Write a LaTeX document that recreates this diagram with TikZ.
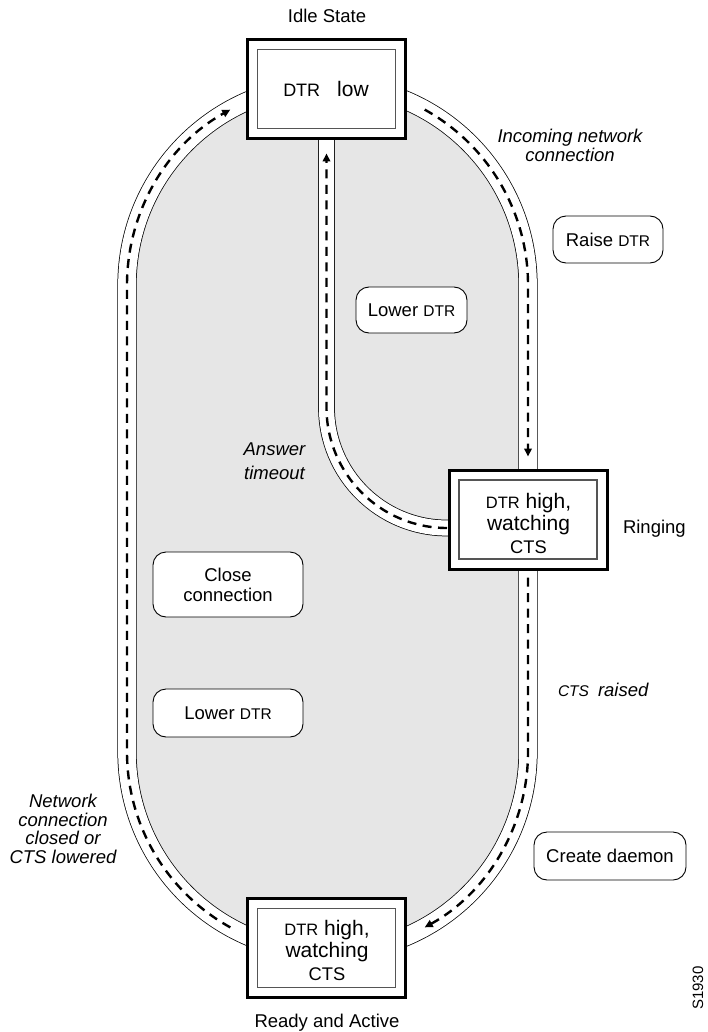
\documentclass[tikz,border=0pt]{standalone}
\usepackage{fontspec}
\setmainfont{Liberation Sans}
\usetikzlibrary{arrows.meta,backgrounds,calc}
\definecolor{insidegrey}{HTML}{E6E6E6}
\definecolor{innerline}{HTML}{555555}
\newcommand\sdtr{{\fontsize{15.5}{15.5}\selectfont DTR}}
\newcommand\tdtr{{\fontsize{18}{18}\selectfont DTR}}
\newcommand\bdtr{{\fontsize{16.5}{16.5}\selectfont DTR}}
\newcommand\bcts{{\fontsize{18.3}{18.3}\selectfont CTS}}
\newcommand\scts{{\fontsize{15.5}{15.5}\selectfont CTS}}
\begin{document}
\begin{tikzpicture}[x=1pt,y=-1pt,
  every node/.style={inner sep=0pt, outer sep=0pt},
  statebox/.style={draw=black, line width=3pt, fill=white, minimum width=158pt, minimum height=99pt},
  innerbox/.style={draw=innerline, line width=1.1pt, minimum width=138pt, minimum height=79pt},
  boxtext/.style={align=center, font=\fontsize{21}{22.5}\selectfont},
  lbl/.style={font=\fontsize{18.5}{20}\selectfont},
  ital/.style={align=center, font=\fontsize{18.5}{18.5}\selectfont\itshape},
  actionbox/.style={draw=black, line width=0.9pt, rounded corners=13pt, fill=white, align=center, font=\fontsize{18.5}{20}\selectfont},
  road/.style={draw=black, line width=0.75pt, double=white, double distance=17.7pt},
  lane/.style={draw=black, line width=0.75pt, double=white, double distance=15.2pt},
  flow/.style={draw=black, line width=2.4pt, dash pattern=on 9pt off 6.5pt, -{Triangle[length=8pt,width=7.5pt]}}
]
\useasboundingbox (0,0) rectangle (708,1032);
\coordinate (topc) at (327.5,285);
\coordinate (botc) at (327.5,752);

% state boxes
\node[statebox] (idle) at (326.5,89) {};
\node[innerbox] (idlein) at (326.5,89) {};
\node[boxtext, anchor=base] (idletxt) at (326,97) {\tdtr\hspace{17pt}low};

\node[statebox] (ring) at (528,520) {};
\node[innerbox] (ringin) at (528,519.5) {};
\node[boxtext] (ringtxt) at (528.5,523) {\bdtr{} high,\\watching\\\bcts};

\node[statebox] (ready) at (326.5,948) {};
\node[innerbox] (readyin) at (326.5,948) {};
\node[boxtext] (readytxt) at (327,950.4) {\bdtr{} high,\\watching\\\bcts};

% state labels
\node[lbl, anchor=base] (idlelbl) at (327,23) {Idle State};
\node[lbl, anchor=base west] (ringlbl) at (623,533) {Ringing};
\node[lbl, anchor=base] (readylbl) at (327,1027) {Ready and Active};

% action boxes
\node[actionbox, minimum width=110pt, minimum height=47pt] (raise) at (608,239.5) {Raise \sdtr};
\node[actionbox, minimum width=111pt, minimum height=46pt] (lower1) at (411.5,310) {Lower \sdtr};
\node[actionbox, minimum width=150pt, minimum height=65pt] (close) at (228,584.5) {Close\\connection};
\node[actionbox, minimum width=150pt, minimum height=48pt] (lower2) at (228,713) {Lower \sdtr};
\node[actionbox, minimum width=152pt, minimum height=48pt] (daemon) at (610,856) {Create daemon};

% event labels
\node[ital] (incoming) at (570,145.5) {Incoming network\\connection};
\node[ital, font=\fontsize{18.5}{24}\selectfont\itshape] (timeout) at (274.5,461.4) {Answer\\timeout};
\node[ital, anchor=base west] (ctsraised) at (558,696) {\scts\hspace{9pt}raised};
\node[ital] (netclosed) at (63,829) {Network\\connection\\closed or\\CTS lowered};
\node[font=\fontsize{15}{15}\selectfont, rotate=90] (code) at (698,988) {S1930};

\begin{scope}[on background layer]
  \fill[insidegrey] (127,285) -- (127,752) arc[start angle=180,end angle=0,radius=200.5]
    -- (528,285) arc[start angle=0,end angle=-180,radius=200.5] -- cycle;
  \draw[road] (127,285) -- (127,752) arc[start angle=180,end angle=0,radius=200.5]
    -- (528,285) arc[start angle=0,end angle=-180,radius=200.5] -- cycle;
  \coordinate (laneend) at ($(ring.west)+(3,8)$);
  \draw[lane] (laneend) -- ++(-5,0) arc[start angle=90,end angle=180,radius=120.5] -- (idle.south);
  % flows
  \draw[flow] ($(ring.west)+(-2,8)$) arc[start angle=90,end angle=180,radius=120.5] -- ($(idle.south)+(0,15)$);
  \draw[flow] ($(topc)+(-61:200.5)$) arc[start angle=-61,end angle=0,radius=200.5] -- ($(ring.north)+(0,-14)$);
  \draw[flow] ($(ring.south)+(0,8)$) -- (528,752) arc[start angle=0,end angle=61,radius=200.5];
  \draw[flow] ($(botc)+(119:200.5)$) arc[start angle=119,end angle=180,radius=200.5] -- (127,285) arc[start angle=180,end angle=241,radius=200.5];
\end{scope}
\end{tikzpicture}
\end{document}
